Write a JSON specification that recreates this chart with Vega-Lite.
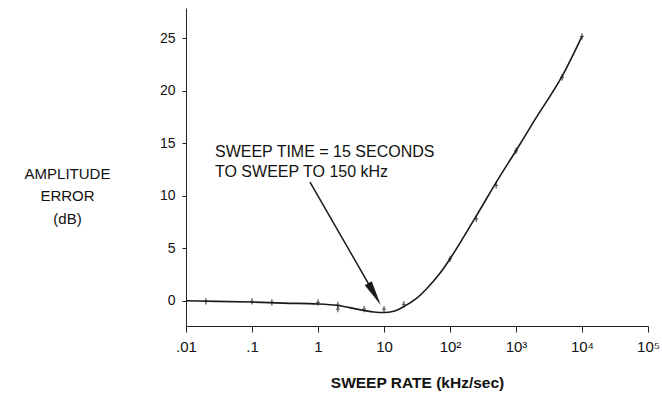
{
  "$schema": "https://vega.github.io/schema/vega-lite/v6.json",
  "autosize": {"type": "none"},
  "width": 462,
  "height": 318,
  "padding": {"left": 186, "top": 8, "right": 14, "bottom": 71},
  "background": "white",
  "config": {
    "view": {"stroke": null},
    "font": "Liberation Sans",
    "axis": {"grid": false, "domainColor": "#222", "tickColor": "#222", "labelColor": "#111", "titleColor": "#111", "labelFont": "Liberation Sans", "titleFont": "Liberation Sans"}
  },
  "datasets": {
    "curve": [
      {"rate": 0.01, "err": 0.0},
      {"rate": 0.03, "err": -0.05},
      {"rate": 0.1, "err": -0.12},
      {"rate": 0.3, "err": -0.22},
      {"rate": 1, "err": -0.3},
      {"rate": 2, "err": -0.45},
      {"rate": 3, "err": -0.65},
      {"rate": 5, "err": -0.92},
      {"rate": 7, "err": -1.07},
      {"rate": 10, "err": -1.12},
      {"rate": 14, "err": -1.0},
      {"rate": 20, "err": -0.55},
      {"rate": 30, "err": 0.15},
      {"rate": 45, "err": 1.2},
      {"rate": 70, "err": 2.6},
      {"rate": 100, "err": 4.0},
      {"rate": 240, "err": 7.9},
      {"rate": 575, "err": 11.9},
      {"rate": 1000, "err": 14.3},
      {"rate": 2000, "err": 17.4},
      {"rate": 5000, "err": 21.4},
      {"rate": 10000, "err": 25.2}
    ],
    "points": [
      {"rate": 0.02, "err": -0.05},
      {"rate": 0.1, "err": -0.05},
      {"rate": 0.2, "err": -0.15},
      {"rate": 1, "err": -0.15},
      {"rate": 2, "err": -0.4},
      {"rate": 2, "err": -0.8},
      {"rate": 5, "err": -0.8},
      {"rate": 10, "err": -0.8},
      {"rate": 20, "err": -0.35},
      {"rate": 100, "err": 4.0},
      {"rate": 250, "err": 7.8},
      {"rate": 500, "err": 11.0},
      {"rate": 1000, "err": 14.3},
      {"rate": 5000, "err": 21.3},
      {"rate": 10000, "err": 25.2}
    ],
    "note": [
      {"rate": 0.0275, "err": 13.7, "label": "SWEEP TIME = 15 SECONDS"},
      {"rate": 0.0275, "err": 11.8, "label": "TO SWEEP TO 150 kHz"}
    ],
    "arrow": [
      {"rate": 0.757, "err": 11.3, "rate2": 7.18, "err2": 0.64}
    ]
  },
  "layer": [
    {
      "data": {"name": "curve"},
      "mark": {"type": "line", "interpolate": "monotone", "color": "#1a1a1a", "strokeWidth": 1.6},
      "encoding": {
        "x": {
          "field": "rate", "type": "quantitative",
          "scale": {"type": "log", "domain": [0.01, 100000]},
          "axis": {
            "values": [0.01, 0.1, 1, 10, 100, 1000, 10000, 100000],
            "labelExpr": "datum.value < 0.05 ? '.01' : datum.value < 0.5 ? '.1' : datum.value < 5 ? '1' : datum.value < 50 ? '10' : datum.value < 500 ? '10²' : datum.value < 5000 ? '10³' : datum.value < 50000 ? '10⁴' : '10⁵'",
            "labelFontSize": 15,
            "labelPadding": 7,
            "tickSize": 6,
            "labelFlush": false,
            "labelOverlap": false,
            "title": "SWEEP RATE (kHz/sec)",
            "titleFontSize": 15.5,
            "titleFontWeight": "bold",
            "titleBaseline": "alphabetic",
            "titleY": 61
          }
        },
        "y": {
          "field": "err", "type": "quantitative",
          "scale": {"domain": [-2.4, 27.9], "nice": false, "zero": false},
          "axis": {
            "values": [0, 5, 10, 15, 20, 25],
            "labelFontSize": 14,
            "tickSize": 4,
            "labelPadding": 7,
            "title": ["AMPLITUDE", "ERROR", "(dB)"],
            "titleAngle": 0,
            "titleAlign": "center",
            "titleBaseline": "alphabetic",
            "titleX": -119,
            "titleY": 170,
            "titleLineHeight": 22.5,
            "titleFontSize": 15,
            "titleFontWeight": "normal"
          }
        }
      }
    },
    {
      "data": {"name": "points"},
      "mark": {"type": "point", "shape": "M0,-1L0,1M-0.6,0L0.6,0", "filled": false, "color": "#1a1a1a", "size": 40, "strokeWidth": 1.3},
      "encoding": {
        "x": {"field": "rate", "type": "quantitative"},
        "y": {"field": "err", "type": "quantitative"}
      }
    },
    {
      "data": {"name": "note"},
      "mark": {"type": "text", "align": "left", "baseline": "alphabetic", "fontSize": 16, "color": "#111"},
      "encoding": {
        "x": {"field": "rate", "type": "quantitative"},
        "y": {"field": "err", "type": "quantitative"},
        "text": {"field": "label"}
      }
    },
    {
      "data": {"name": "arrow"},
      "mark": {"type": "rule", "color": "#1a1a1a", "strokeWidth": 1.5},
      "encoding": {
        "x": {"field": "rate", "type": "quantitative"},
        "y": {"field": "err", "type": "quantitative"},
        "x2": {"field": "rate2"},
        "y2": {"field": "err2"}
      }
    },
    {
      "data": {"name": "arrow"},
      "mark": {"type": "point", "shape": "M0,1L-0.32,-1L0.32,-1Z", "filled": true, "color": "#1a1a1a", "opacity": 1, "size": 625, "angle": 330},
      "encoding": {
        "x": {"field": "rate2", "type": "quantitative"},
        "y": {"field": "err2", "type": "quantitative"}
      }
    }
  ]
}
